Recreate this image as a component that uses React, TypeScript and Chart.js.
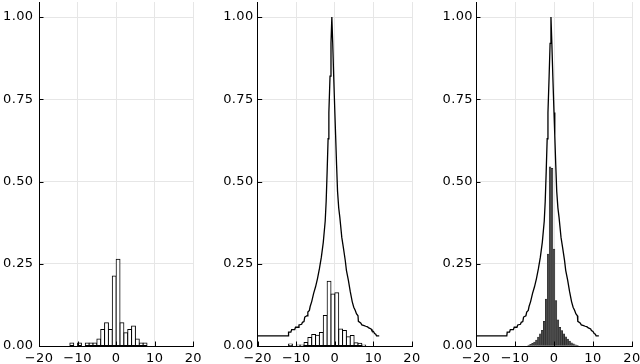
import React, { useEffect, useRef } from "react";
import { Chart, registerables } from "chart.js";

Chart.register(...registerables);

// ---------- data ----------
const xTicks = [-20, -10, 0, 10, 20];
const yTicks = [0, 0.25, 0.5, 0.75, 1.0];

// panel 1: histogram, unit-width bins (left edges)
const hist1Edges = [-12, -10, -8, -7, -6, -5, -4, -3, -2, -1, 0, 1, 2, 3, 4, 5, 6, 7];
const hist1Values = [0.009, 0.009, 0.009, 0.009, 0.009, 0.021, 0.05, 0.071, 0.05, 0.213, 0.264, 0.071, 0.04, 0.05, 0.061, 0.021, 0.009, 0.009];

// panel 2: histogram, unit-width bins (left edges)
const hist2Edges = [-12, -10, -9, -8, -7, -6, -5, -4, -3, -2, -1, 0, 1, 2, 3, 4, 5, 6, 7];
const hist2Values = [0.006, 0.003, 0.003, 0.011, 0.026, 0.035, 0.033, 0.041, 0.093, 0.197, 0.158, 0.162, 0.052, 0.047, 0.028, 0.032, 0.01, 0.008, 0.003];

// panel 3: histogram, half-unit bins (centres)
const hist3Centers = [-6.5, -6, -5.5, -5, -4.5, -4, -3.5, -3, -2.5, -2, -1.5, -1, -0.5, 0, 0.5, 1, 1.5, 2, 2.5, 3, 3.5, 4, 4.5, 5, 5.5, 6];
const hist3Values = [0.003, 0.005, 0.008, 0.012, 0.018, 0.027, 0.037, 0.048, 0.075, 0.143, 0.28, 0.545, 0.54, 0.295, 0.138, 0.08, 0.057, 0.047, 0.037, 0.028, 0.021, 0.015, 0.01, 0.007, 0.004, 0.002];

// envelope curve (panels 2 and 3)
const envX = [-20, -12.1, -12.0, -11.4, -11.2, -10.4, -10.2, -9.5, -9.3, -8.6, -8.4, -8.0, -7.8, -7.2, -7.0, -6.6, -6.4, -6.0, -5.5, -5.0, -4.5, -4.0, -3.5, -3.0, -2.5, -2.25, -2.0, -1.75, -1.55, -1.25, -1.0, -0.78, -0.55, -0.3, 0.0, 0.2, 0.45, 0.7, 1.0, 1.3, 1.8, 2.2, 2.7, 3.0, 3.5, 4.0, 4.5, 4.9, 5.3, 5.6, 6.0, 6.1, 6.7, 7.0, 7.6, 8.0, 8.5, 8.8, 9.4, 9.6, 10.0, 10.3, 10.6, 10.8, 11.5];
const envY = [0.031, 0.031, 0.042, 0.042, 0.05, 0.05, 0.057, 0.057, 0.064, 0.066, 0.072, 0.074, 0.088, 0.092, 0.103, 0.108, 0.12, 0.135, 0.16, 0.18, 0.205, 0.235, 0.27, 0.315, 0.38, 0.44, 0.53, 0.63, 0.71, 0.82, 0.92, 1.0, 0.92, 0.82, 0.71, 0.64, 0.55, 0.47, 0.42, 0.39, 0.33, 0.3, 0.26, 0.23, 0.2, 0.165, 0.135, 0.118, 0.108, 0.098, 0.092, 0.075, 0.07, 0.064, 0.062, 0.06, 0.058, 0.055, 0.052, 0.047, 0.044, 0.038, 0.036, 0.031, 0.031];

// ---------- layout ----------
const FONT = "DejaVu Sans";
const FONT_SIZE = 13;
const LETTER_SPACING = "0.4px";
const panels = [
  { axisX: 39, right: 193.3, labelPad: 5.5 },
  { axisX: 257.7, right: 412, labelPad: 4 },
  { axisX: 476, right: 632, labelPad: 3 },
];
const H = 364;
const TOP = 2;
const BOTTOM = 346;

const inwardTicks = {
  id: "inwardTicks",
  beforeUpdate(chart: any) {
    try { chart.ctx.letterSpacing = LETTER_SPACING; } catch (e) {}
  },
  beforeDraw(chart: any) {
    try { chart.ctx.letterSpacing = LETTER_SPACING; } catch (e) {}
  },
  afterDraw(chart: any) {
    const { ctx, chartArea, scales } = chart;
    ctx.save();
    ctx.strokeStyle = "#000";
    ctx.lineWidth = 1;
    ctx.beginPath();
    yTicks.forEach((v) => {
      const y = Math.round(scales.y.getPixelForValue(v)) + 0.5;
      ctx.moveTo(chartArea.left, y);
      ctx.lineTo(chartArea.left + 4.5, y);
    });
    xTicks.forEach((v) => {
      const x = Math.round(scales.x.getPixelForValue(v)) + 0.5;
      ctx.moveTo(x, chartArea.bottom);
      ctx.lineTo(x, chartArea.bottom - 4.5);
    });
    ctx.stroke();
    ctx.restore();
  },
};

function makeConfig(idx: number, yWidth: number, padRight: number) {
  const datasets: any[] = [];
  if (idx === 0 || idx === 1) {
    const edges = idx === 0 ? hist1Edges : hist2Edges;
    const vals = idx === 0 ? hist1Values : hist2Values;
    datasets.push({
      type: "bar",
      data: edges.map((e, i) => ({ x: e + 0.5, y: vals[i] })),
      backgroundColor: "#ffffff",
      borderColor: "#000000",
      borderWidth: 1,
      inflateAmount: 0.5,
      borderSkipped: false,
      barPercentage: 1,
      categoryPercentage: 1,
      order: 2,
    });
  } else {
    datasets.push({
      type: "bar",
      data: hist3Centers.map((c, i) => ({ x: c, y: hist3Values[i] })),
      backgroundColor: "#4a4a4a",
      borderColor: "#1a1a1a",
      borderWidth: 0.5,
      inflateAmount: 0.25,
      borderSkipped: false,
      barPercentage: 1,
      categoryPercentage: 1,
      order: 2,
    });
  }
  if (idx > 0) {
    datasets.push({
      type: "line",
      data: envX.map((x, i) => ({ x, y: envY[i] })),
      borderColor: "#000000",
      borderWidth: 1.3,
      pointRadius: 0,
      tension: 0,
      fill: false,
      order: 1,
    });
  }
  return {
    type: "bar",
    data: { datasets },
    plugins: [inwardTicks],
    options: {
      responsive: false,
      animation: false,
      events: [],
      layout: { padding: { top: TOP, right: padRight, left: 0, bottom: 0 } },
      plugins: { legend: { display: false }, tooltip: { enabled: false } },
      scales: {
        x: {
          type: "linear",
          min: -20,
          max: 20,
          offset: false,
          grid: { color: "#e6e6e6", lineWidth: 1, drawTicks: false, offset: false },
          border: { display: true, color: "#000", width: 1 },
          ticks: {
            color: "#000",
            font: { family: FONT, size: FONT_SIZE },
            padding: 5,
            maxRotation: 0,
            callback: (v: number) => (v < 0 ? "\u2212" + Math.abs(v) : String(v)),
          },
          afterBuildTicks: (s: any) => {
            s.ticks = xTicks.map((v) => ({ value: v }));
          },
          afterFit: (s: any) => {
            s.height = H - BOTTOM;
            s.paddingLeft = 0;
            s.paddingRight = 0;
          },
        },
        y: {
          type: "linear",
          min: 0,
          max: 1.0456,
          grid: { color: "#e6e6e6", lineWidth: 1, drawTicks: false },
          border: { display: true, color: "#000", width: 1 },
          ticks: {
            color: "#000",
            font: { family: FONT, size: FONT_SIZE },
            padding: panels[idx].labelPad,
            callback: (v: number) => v.toFixed(2),
          },
          afterBuildTicks: (s: any) => {
            s.ticks = yTicks.map((v) => ({ value: v }));
          },
          afterFit: (s: any) => {
            s.width = yWidth;
            s.paddingTop = 0;
            s.paddingBottom = 0;
          },
        },
      },
    },
  };
}

export default function App() {
  const refs = [useRef<HTMLCanvasElement>(null), useRef<HTMLCanvasElement>(null), useRef<HTMLCanvasElement>(null)];
  const geom = panels.map((p) => {
    const left = Math.floor(p.axisX) - 40;
    const yWidth = p.axisX - left;
    const width = Math.ceil(p.right - left + 10);
    const padRight = width - (p.right - left);
    return { left, yWidth, width, padRight };
  });

  useEffect(() => {
    const charts = refs.map((r, i) =>
      new Chart(r.current as HTMLCanvasElement, makeConfig(i, geom[i].yWidth, geom[i].padRight) as any)
    );
    return () => charts.forEach((c) => c.destroy());
  }, []);

  return (
    <div
      style={{
        position: "absolute",
        left: 0,
        top: 0,
        width: 640,
        height: H,
        overflow: "hidden",
        background: "#fff",
      }}
    >
      {geom.map((g, i) => (
        <canvas
          key={i}
          ref={refs[i]}
          width={g.width}
          height={H}
          style={{ position: "absolute", left: g.left, top: 0, width: g.width, height: H }}
        />
      ))}
    </div>
  );
}
